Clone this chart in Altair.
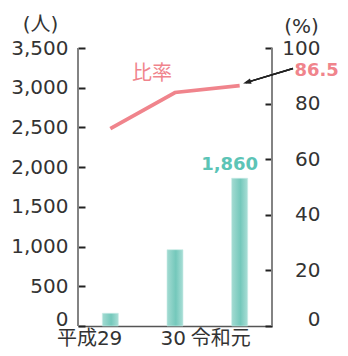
import altair as alt
import pandas as pd

years = ["平成29", "30", "令和元"]
people = [160, 960, 1860]
ratio = [71.0, 84.0, 86.5]

W, H = 194, 278
FONT = "DejaVu Sans, Noto Sans CJK JP"
PINK = "#f0848c"
TEAL = "#5cc4b6"

df = pd.DataFrame({"year": years, "people": people, "ratio": ratio})

x = alt.X("year:N", sort=years, title=None,
          scale=alt.Scale(paddingInner=0, paddingOuter=0),
          axis=alt.Axis(labelAngle=0, ticks=False, tickSize=0, domainColor="#555",
                        domainWidth=1.5, labelFontSize=20, labelFont=FONT,
                        labelColor="#333", labelAlign="right", labelBaseline="alphabetic",
                        labelPadding=18,
                        labelOffset=alt.expr("datum.value == '30' ? 11 : datum.value == '令和元' ? 11 : 12")))

yl_scale = alt.Scale(domain=[0, 3500])
yr_scale = alt.Scale(domain=[0, 100])

zero_up = alt.expr("datum.value == 0 ? -7 : 0")

bars = alt.Chart(df).mark_bar(
    width=16,
    color=alt.Gradient(gradient="linear", x1=0, x2=1, y1=0, y2=0,
                       stops=[alt.GradientStop(offset=0, color="#a3dbd2"),
                              alt.GradientStop(offset=0.55, color="#74c8bb"),
                              alt.GradientStop(offset=1, color="#a9ded6")]),
    stroke="#c6ebe5", strokeWidth=0.6,
).encode(
    x=x,
    y=alt.Y("people:Q", scale=yl_scale, title="(人)",
            axis=alt.Axis(orient="left", values=list(range(0, 3501, 500)), format=",d",
                          offset=-7, tickSize=7, tickWidth=2, tickColor="#222",
                          domain=False, grid=False, labelPadding=10,
                          labelOffset=zero_up,
                          labelFontSize=20, labelFont=FONT, labelColor="#333",
                          titleAngle=0, titleAlign="center", titleBaseline="middle",
                          titleX=-45, titleY=-24, titleFontSize=20, titleFont=FONT,
                          titleFontWeight="normal", titleColor="#333")),
)

bar_text = alt.Chart(df[df["year"] == "令和元"]).mark_text(
    font=FONT, fontSize=18, fontWeight="bold", color=TEAL,
    align="center", baseline="alphabetic", dx=-10, dy=-8,
).encode(
    x=alt.X("year:N", sort=years),
    y=alt.Y("people:Q", scale=yl_scale, axis=None),
    text=alt.Text("people:Q", format=","),
)

line = alt.Chart(df).mark_line(color=PINK, strokeWidth=3.8).encode(
    x=alt.X("year:N", sort=years),
    y=alt.Y("ratio:Q", scale=yr_scale, title="(%)",
            axis=alt.Axis(orient="right", values=list(range(0, 101, 20)), format="d",
                          offset=-7, tickSize=7, tickWidth=2, tickColor="#222",
                          domain=False, grid=False, labelPadding=48, labelAlign="right",
                          labelOffset=zero_up,
                          labelFontSize=20, labelFont=FONT, labelColor="#333",
                          titleAngle=0, titleAlign="center", titleBaseline="middle",
                          titleX=36, titleY=-22, titleFontSize=20, titleFont=FONT,
                          titleFontWeight="normal", titleColor="#333")),
)

val_text = alt.Chart(df[df["year"] == "令和元"]).mark_text(
    font=FONT, fontSize=18, fontWeight="bold", color=PINK,
    align="center", baseline="middle", dx=77, dy=-15,
).encode(
    x=alt.X("year:N", sort=years),
    y=alt.Y("ratio:Q", scale=yr_scale, axis=None),
    text=alt.Text("ratio:Q", format=".1f"),
)

name_text = alt.Chart(df[df["year"] == "30"]).mark_text(
    font=FONT, fontSize=20, color=PINK,
    align="center", baseline="middle", dx=-23, dy=-18,
).encode(
    x=alt.X("year:N", sort=years),
    y=alt.Y("ratio:Q", scale=yr_scale, axis=None),
    text=alt.value("比率"),
)

frame_l = alt.Chart(df).mark_rule(color="#808080", strokeWidth=1.4).encode(
    x=alt.value(0), y=alt.value(0), y2=alt.value(H))
frame_r = alt.Chart(df).mark_rule(color="#808080", strokeWidth=1.4).encode(
    x=alt.value(W), y=alt.value(0), y2=alt.value(H))

arrow = alt.Chart(df).mark_rule(color="#222", strokeWidth=1.5).encode(
    x=alt.value(215), y=alt.value(20.5), x2=alt.value(168), y2=alt.value(34.6))
head = alt.Chart(df[df["year"] == "令和元"]).mark_point(
    shape="M0,-1L0.6,0.7L-0.6,0.7Z", filled=True, color="#222", opacity=1,
    size=90, angle=253,
).encode(x=alt.value(169.6), y=alt.value(34.1))

chart = alt.layer(
    bars, bar_text, line, val_text, name_text, frame_l, frame_r, arrow, head
).resolve_scale(y="independent").properties(
    width=W, height=H,
    autosize=alt.AutoSizeParams(type="none"),
    padding={"left": 70, "top": 40, "right": 68, "bottom": 22},
).configure_view(stroke=None)

chart.save("out.html", embed_options={"renderer": "svg", "actions": False})
